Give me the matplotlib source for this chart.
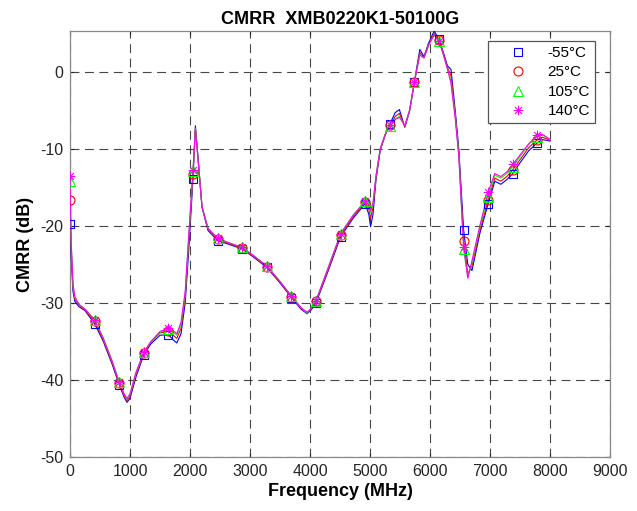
import numpy as np
import matplotlib
matplotlib.use("Agg")
import matplotlib.pyplot as plt
from matplotlib.path import Path
from matplotlib.lines import Line2D

plt.rcParams['font.family'] = ['Liberation Sans', 'DejaVu Sans']
plt.rcParams['axes.unicode_minus'] = False

# ---------------- data ----------------
freq = [0, 20, 50, 80, 150, 250, 410, 550, 700, 820, 900, 950, 1000, 1100, 1230,
        1350, 1500, 1640, 1720, 1780, 1850, 1920, 1980, 2050, 2090, 2130, 2200, 2300,
        2460, 2650, 2870, 3050, 3280, 3500, 3690, 3850, 3950, 4020, 4100, 4300, 4510,
        4720, 4920, 4980, 5010, 5050, 5100, 5170, 5250, 5330, 5420, 5490, 5580, 5660,
        5740, 5830, 5900, 5980, 6070, 6150, 6220, 6290, 6350, 6420, 6480, 6560, 6630,
        6700, 6830, 6970, 7080, 7180, 7280, 7380, 7500, 7650, 7790, 7870, 7950, 8000]

cmrr_m55 = [-19.7, -24.0, -28.5, -29.8, -30.5, -31.0, -32.7, -34.9, -37.9, -40.6, -42.2, -42.9,
            -42.4, -39.6, -36.7, -35.3, -34.2, -34.1, -34.8, -35.2, -34.0, -30.0, -23.0, -13.9,
            -7.0, -10.8, -17.6, -20.6, -21.9, -22.4, -23.0, -24.0, -25.4, -27.4, -29.3, -30.8,
            -31.4, -30.9, -30.0, -25.9, -21.4, -19.0, -17.1, -18.5, -20.1, -18.5, -14.0, -10.2,
            -8.3, -6.8, -5.3, -4.9, -7.2, -5.1, -1.3, 2.9, 2.0, 3.8, 5.3, 4.2, 2.6, 0.8,
            0.3, -5.0, -10.0, -20.5, -25.0, -25.8, -21.0, -17.1, -14.2, -14.6, -14.0, -13.2,
            -11.8, -10.2, -9.2, -8.8, -8.9, -9.0]

cmrr_25 = [-16.7, -23.0, -28.0, -29.5, -30.3, -30.9, -32.4, -34.7, -37.7, -40.4, -42.0, -42.7,
           -42.1, -39.3, -36.5, -35.1, -33.9, -33.7, -34.2, -34.6, -33.3, -29.2, -22.0, -13.2,
           -7.3, -10.9, -17.5, -20.4, -21.7, -22.3, -22.9, -23.9, -25.3, -27.3, -29.2, -30.7,
           -31.3, -30.8, -29.8, -25.7, -21.2, -18.8, -16.9, -17.8, -19.0, -17.6, -13.7, -10.1,
           -8.2, -6.9, -5.8, -5.4, -7.1, -5.0, -1.3, 2.5, 1.9, 3.6, 5.0, 4.1, 2.4, 0.6,
           -0.5, -5.5, -10.5, -21.9, -26.2, -25.2, -20.6, -16.6, -13.8, -14.2, -13.6, -12.7,
           -11.4, -9.8, -8.8, -8.5, -8.7, -8.9]

cmrr_105 = [-14.2, -22.4, -27.7, -29.3, -30.2, -30.8, -32.2, -34.5, -37.5, -40.2, -41.8, -42.5,
            -41.9, -39.1, -36.4, -35.0, -33.8, -33.4, -33.8, -34.2, -32.8, -28.8, -21.4, -12.9,
            -7.4, -11.0, -17.5, -20.3, -21.6, -22.2, -22.8, -23.8, -25.2, -27.2, -29.1, -30.6,
            -31.3, -30.7, -29.7, -25.5, -21.0, -18.6, -16.8, -17.3, -18.3, -17.1, -13.5, -10.0,
            -8.2, -7.0, -6.1, -5.8, -7.0, -5.0, -1.3, 2.2, 1.8, 3.5, 4.8, 4.0, 2.3, 0.4,
            -1.3, -5.8, -10.8, -23.0, -26.6, -24.8, -20.2, -16.2, -13.4, -13.8, -13.2, -12.3,
            -11.0, -9.4, -8.4, -8.2, -8.5, -8.8]

cmrr_140 = [-13.5, -22.0, -27.5, -29.2, -30.2, -30.8, -32.2, -34.5, -37.5, -40.3, -41.8, -42.4,
            -41.8, -39.0, -36.4, -35.0, -33.7, -33.3, -33.6, -34.0, -32.5, -28.5, -21.0, -12.8,
            -7.5, -11.0, -17.5, -20.3, -21.6, -22.2, -22.8, -23.8, -25.2, -27.2, -29.1, -30.6,
            -31.2, -30.7, -29.7, -25.5, -21.0, -18.6, -16.8, -17.2, -18.0, -17.0, -13.5, -10.0,
            -8.2, -6.9, -6.2, -5.9, -7.0, -5.0, -1.3, 2.2, 1.8, 3.5, 4.8, 4.0, 2.3, 0.4,
            -1.5, -6.0, -11.0, -22.7, -26.8, -24.5, -20.0, -15.6, -13.2, -13.6, -13.0, -12.0,
            -10.8, -9.3, -8.2, -8.1, -8.5, -8.8]

marker_freqs = [0, 410, 820, 1230, 1640, 2050, 2460, 2870, 3280, 3690, 4100, 4510,
                4920, 5330, 5740, 6150, 6560, 6970, 7380, 7790]

labels = ['-55°C', '25°C', '105°C', '140°C']
series = [cmrr_m55, cmrr_25, cmrr_105, cmrr_140]
colors = ['#0000ff', '#ff0000', '#00ff00', '#ff00ff']

xticks = [0, 1000, 2000, 3000, 4000, 5000, 6000, 7000, 8000, 9000]
yticks = [-50, -40, -30, -20, -10, 0]

# asterisk marker (plus + cross), MATLAB style
d = 0.7071
ast = Path([(-1, 0), (1, 0), (0, -1), (0, 1), (-d, -d), (d, d), (-d, d), (d, -d)],
           [Path.MOVETO, Path.LINETO] * 4)
markers = ['s', 'o', '^', ast]
msizes = [6.0, 6.5, 7.5, 7.0]

# ---------------- figure ----------------
fig = plt.figure(figsize=(6.37, 5.11), dpi=100)
ax = fig.add_axes([70 / 637, 1 - 457 / 511, 540 / 637, (457 - 31) / 511])

mark_idx = [freq.index(f) for f in marker_freqs]
handles = []
for y, c, m, ms, lab in zip(series, colors, markers, msizes, labels):
    ax.plot(freq, y, '-', color=c, lw=0.8, zorder=3)
    ax.plot(np.array(freq)[mark_idx], np.array(y)[mark_idx], linestyle='none',
            marker=m, ms=ms, mfc='none', mec=c, mew=0.8, zorder=4)
    handles.append(Line2D([], [], linestyle='none', marker=m, ms=ms, mfc='none',
                          mec=c, mew=0.8, label=lab))

ax.set_xlim(0, 9000)
ax.set_ylim(-50, 5.3)
ax.set_xticks(xticks)
ax.set_yticks(yticks)
ax.tick_params(direction='in', length=3, labelsize=11.5, colors='#262626', pad=5,
               top=True, right=True)
ax.grid(True, color='#262626', linestyle=(0, (8, 5)), lw=0.8, alpha=0.85)
for s in ax.spines.values():
    s.set_color('#888888')
    s.set_linewidth(0.9)

ax.set_title('CMRR  XMB0220K1-50100G', fontsize=13, fontweight='bold', pad=5)
ax.set_xlabel('Frequency (MHz)', fontsize=13, fontweight='bold', labelpad=3)
ax.set_ylabel('CMRR (dB)', fontsize=13, fontweight='bold', labelpad=4)

leg = ax.legend(handles=handles, loc='upper right',
                bbox_to_anchor=(595 / 637, 1 - 41 / 511), bbox_transform=fig.transFigure,
                fontsize=11, frameon=True, fancybox=False, borderaxespad=0,
                handlelength=3.2, handletextpad=0.35, labelspacing=0.36,
                borderpad=0.32, edgecolor='#555555', framealpha=1)
leg.get_frame().set_linewidth(0.9)
leg.set_zorder(10)

fig.savefig('out.png', dpi=100)
